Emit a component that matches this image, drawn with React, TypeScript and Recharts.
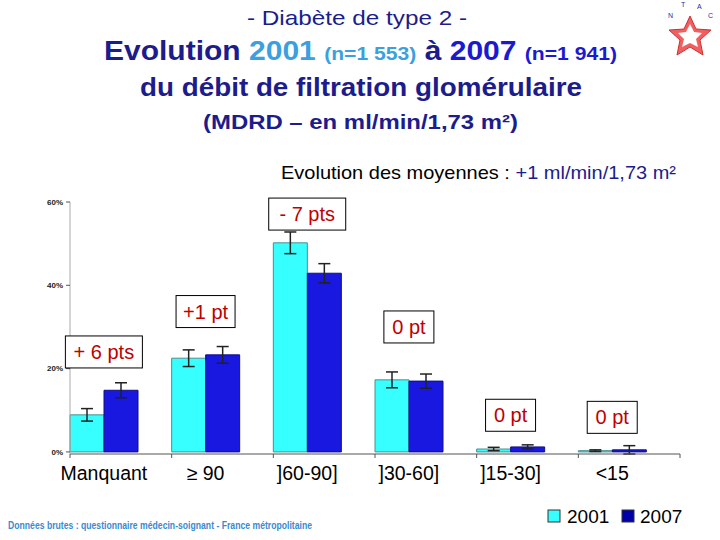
import { BarChart, Bar, XAxis, YAxis, ErrorBar, ReferenceDot } from 'recharts';

const categories = ['Manquant', '≥ 90', ']60-90]', ']30-60]', ']15-30]', '<15'];
const values2001 = [8.9, 22.5, 50.2, 17.3, 0.7, 0.3];
const values2007 = [14.8, 23.3, 42.9, 17.0, 1.2, 0.5];
const errors2001 = [1.5, 2.0, 2.6, 1.9, 0.4, 0.2];
const errors2007 = [1.8, 2.0, 2.3, 1.7, 0.5, 1.0];
const deltaLabels = ['+ 6 pts', '+1 pt', '- 7 pts', '0 pt', '0 pt', '0 pt'];
const deltaLevels = [24, 33.7, 57.1, 30, 8.8, 8.3];
const yTicks = [0, 20, 40, 60];

const data = categories.map((name, i) => ({
  name,
  y2001: values2001[i],
  y2007: values2007[i],
  e2001: errors2001[i],
  e2007: errors2007[i],
}));

const FONT = '"Liberation Sans", Arial, Helvetica, sans-serif';
const W = 720;
const H = 540;
const PLOT_LEFT = 70;
const PLOT_RIGHT = 680;
const BAND = (PLOT_RIGHT - PLOT_LEFT) / categories.length;
// bars fill the left two thirds of each category, so the pair centre sits a half-bar left of the band centre
const PAIR_SHIFT = -BAND / 6;

const CYAN = '#38ffff';
const BLUE = '#1818e0';
const TITLE_BLUE = '#1c1c8c';

const CategoryTick = (props: any) => {
  const { x, y, payload, index } = props;
  const left = x - BAND / 2;
  return (
    <g>
      <line x1={left} y1={y} x2={left} y2={y + 4} stroke="#555" />
      {index === categories.length - 1 && (
        <line x1={x + BAND / 2} y1={y} x2={x + BAND / 2} y2={y + 4} stroke="#555" />
      )}
      <text x={x + PAIR_SHIFT} y={y + 26} textAnchor="middle" fontSize={19.5} fill="#000" fontFamily={FONT}>
        {payload.value}
      </text>
    </g>
  );
};

const DeltaBox = ({ cx, cy, text }: { cx: number; cy: number; text: string }) => {
  const w = text.length * 9 + 14;
  const h = 32;
  const x = cx + PAIR_SHIFT;
  return (
    <g>
      <rect x={x - w / 2} y={cy - h / 2} width={w} height={h} fill="#fff" stroke="#000" strokeWidth={1} />
      <text x={x} y={cy + 7} textAnchor="middle" fontSize={20} fill="#c00000" fontFamily={FONT}>
        {text}
      </text>
    </g>
  );
};

export default function App() {
  return (
    <div style={{ position: 'absolute', left: 0, top: 0, width: W, height: H, background: '#fff' }}>
      <BarChart
        width={W}
        height={H}
        data={data}
        margin={{ top: 202, right: W - PLOT_RIGHT, bottom: 56, left: 0 }}
        barCategoryGap={0}
        barGap={0}
      >
        <XAxis
          dataKey="name"
          height={30}
          tickLine={false}
          tickSize={0}
          tickMargin={0}
          axisLine={{ stroke: '#555' }}
          tick={<CategoryTick />}
          interval={0}
        />
        <YAxis
          width={PLOT_LEFT}
          domain={[0, 60]}
          ticks={yTicks}
          tickFormatter={(v: number) => `${v}%`}
          tickSize={4}
          tickMargin={3}
          axisLine={{ stroke: '#aaa' }}
          tickLine={{ stroke: '#555' }}
          tick={{ fontSize: 8, fontWeight: 'bold', fill: '#222', fontFamily: FONT }}
        />
        <Bar dataKey="y2001" fill={CYAN} stroke="#4a9090" strokeWidth={1} isAnimationActive={false}>
          <ErrorBar dataKey="e2001" width={6} stroke="#222" strokeWidth={1.5} direction="y" />
        </Bar>
        <Bar dataKey="y2007" fill={BLUE} stroke="#101080" strokeWidth={1} isAnimationActive={false}>
          <ErrorBar dataKey="e2007" width={6} stroke="#222" strokeWidth={1.5} direction="y" />
        </Bar>
        <Bar dataKey={() => 0} fill="none" stroke="none" legendType="none" isAnimationActive={false} />
        {categories.map((c, i) => (
          <ReferenceDot
            key={c}
            x={c}
            y={deltaLevels[i]}
            ifOverflow="visible"
            shape={(p: any) => <DeltaBox cx={p.cx} cy={p.cy} text={deltaLabels[i]} />}
          />
        ))}
      </BarChart>

      <svg width={W} height={H} style={{ position: 'absolute', left: 0, top: 0, pointerEvents: 'none' }}>
        <g fontFamily={FONT}>
          <text x={247} y={25} fontSize={21} fill={TITLE_BLUE} textLength={220} lengthAdjust="spacingAndGlyphs">
            - Diabète de type 2 -
          </text>
          <text
            x={104}
            y={60}
            fontSize={27}
            fontWeight="bold"
            fill={TITLE_BLUE}
            textLength={513}
            lengthAdjust="spacingAndGlyphs"
          >
            Evolution{' '}
            <tspan fill="#3aa0e0">2001</tspan>{' '}
            <tspan fill="#3aa0e0" fontSize={19}>(n=1 553)</tspan> à{' '}
            <tspan fill="#1a1ad0">2007</tspan>{' '}
            <tspan fill="#1a1ad0" fontSize={19}>(n=1 941)</tspan>
          </text>
          <text
            x={140}
            y={96}
            fontSize={26}
            fontWeight="bold"
            fill={TITLE_BLUE}
            textLength={442}
            lengthAdjust="spacingAndGlyphs"
          >
            du débit de filtration glomérulaire
          </text>
          <text
            x={203}
            y={129}
            fontSize={21}
            fontWeight="bold"
            fill={TITLE_BLUE}
            textLength={315}
            lengthAdjust="spacingAndGlyphs"
          >
            (MDRD – en ml/min/1,73 m²)
          </text>
          <text x={281} y={179} fontSize={19} fill="#000" textLength={395} lengthAdjust="spacingAndGlyphs">
            Evolution des moyennes : <tspan fill={TITLE_BLUE}>+1 ml/min/1,73 m²</tspan>
          </text>
        </g>

        <text
          x={8}
          y={529}
          fontSize={11}
          fontWeight="bold"
          fill="#3a8ad0"
          fontFamily={FONT}
          textLength={304}
          lengthAdjust="spacingAndGlyphs"
        >
          Données brutes : questionnaire médecin-soignant - France métropolitaine
        </text>

        <g fontFamily={FONT} fontSize={19} fill="#000">
          <rect x={548} y={510} width={12} height={12} fill={CYAN} stroke="#333" />
          <text x={567} y={523}>2001</text>
          <rect x={622} y={510} width={12} height={12} fill="#0000a8" stroke="#333" />
          <text x={640} y={523}>2007</text>
        </g>

        <g transform="translate(690,36)">
          <path
            d="M0,-20 L6,-7 L21,-6 L10,4 L13,19 L0,11 L-13,19 L-10,4 L-21,-6 L-6,-7 Z"
            fill="#f06060"
            stroke="#d03030"
          />
          <path d="M0,-12 L4,-4 L12,-3 L6,3 L8,11 L0,7 L-8,11 L-6,3 L-12,-3 L-4,-4 Z" fill="#fff" />
          <g fontSize={7} fill="#2030a0" fontFamily={FONT}>
            <text x={-22} y={-18}>N</text>
            <text x={-9} y={-29}>T</text>
            <text x={7} y={-27}>A</text>
            <text x={18} y={-18}>C</text>
          </g>
        </g>
      </svg>
    </div>
  );
}
